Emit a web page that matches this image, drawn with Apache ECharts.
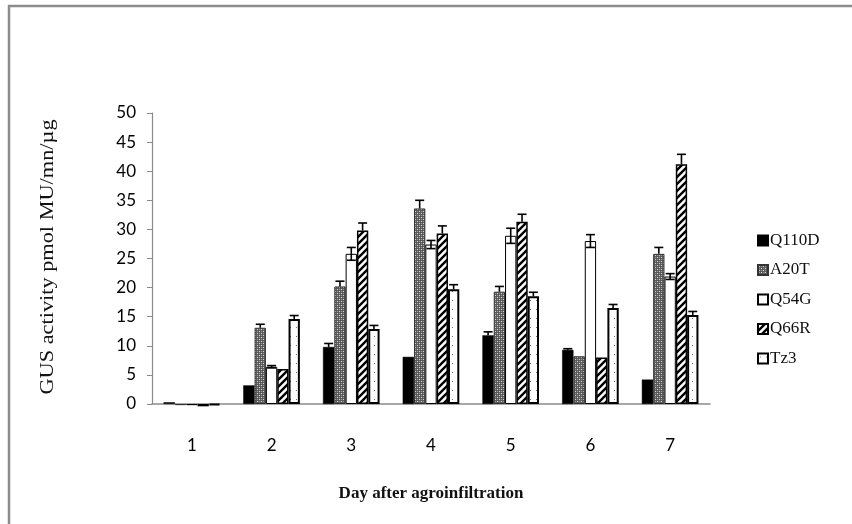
<!DOCTYPE html>
<html><head><meta charset="utf-8">
<script src="https://cdn.jsdelivr.net/npm/echarts/dist/echarts.min.js"></script>
<style>html,body{margin:0;padding:0;background:#fff}#c{width:852px;height:524px}</style>
</head><body><div id="c"></div>
<script>
// ---- data ----
const days = ['1','2','3','4','5','6','7'];
const seriesNames = ['Q110D','A20T','Q54G','Q66R','Tz3'];
const q110d = [0.3, 3.2, 9.8, 8.1, 11.8, 9.3, 4.2];
const a20t  = [-0.2, 13.1, 20.2, 33.6, 19.3, 8.2, 25.8];
const q54g  = [-0.2, 6.4, 25.8, 27.4, 28.9, 28.0, 21.9];
const q66r  = [-0.4, 6.0, 29.8, 29.3, 31.3, 8.0, 41.2];
const tz3   = [-0.2, 14.6, 12.9, 19.7, 18.5, 16.5, 15.3];
const q110dErr = [0, 0, 0.6, 0, 0.6, 0.2, 0];
const a20tErr  = [0, 0.6, 0.9, 1.4, 0.9, 0, 1.1];
const q54gErr  = [0, 0.2, 1.1, 0.7, 1.3, 1.1, 0.5];
const q66rErr  = [0, 0, 1.3, 1.3, 1.3, 0, 1.7];
const tz3Err   = [0, 0.6, 0.6, 0.8, 0.7, 0.6, 0.6];
const yTicksMax = 50, yTickStep = 5;

const values = [q110d, a20t, q54g, q66r, tz3];
const errs = [q110dErr, a20tErr, q54gErr, q66rErr, tz3Err];

// ---- patterns ----
function tile(w, h, draw) {
  const c = document.createElement('canvas'); c.width = w; c.height = h;
  const g = c.getContext('2d'); draw(g, w, h); return c;
}
const checker = tile(4, 4, (g) => {
  g.fillStyle = '#5a5a5a'; g.fillRect(0,0,4,4);
  g.fillStyle = '#d8d8d8'; g.fillRect(1,1,1,1); g.fillRect(3,3,1,1);
  g.fillStyle = '#9a9a9a'; g.fillRect(3,1,1,1); g.fillRect(1,3,1,1);
});
const stripes = tile(7, 7, (g, w, h) => {
  g.fillStyle = '#fff'; g.fillRect(0,0,w,h);
  g.strokeStyle = '#000'; g.lineWidth = 2.4;
  g.beginPath();
  g.moveTo(-1, h+1); g.lineTo(w+1, -1);
  g.moveTo(-2, 2); g.lineTo(2, -2);
  g.moveTo(w-2, h+2); g.lineTo(w+2, h-2);
  g.stroke();
});
const dots = tile(6, 9, (g, w, h) => {
  g.fillStyle = '#fff'; g.fillRect(0,0,w,h);
  g.fillStyle = '#777'; g.fillRect(2,3,1,1);
});

const styles = [
  {color: '#000', borderColor: '#000', borderWidth: 0.5},
  {color: {image: checker, repeat: 'repeat'}, borderColor: '#333', borderWidth: 1},
  {color: '#fff', borderColor: '#000', borderWidth: 1},
  {color: {image: stripes, repeat: 'repeat'}, borderColor: '#000', borderWidth: 1.5},
  {color: {image: dots, repeat: 'repeat'}, borderColor: '#000', borderWidth: 2}
];

const catGap = 0.29;
const series = [];
seriesNames.forEach((n, i) => {
  series.push({
    name: n, type: 'bar', data: values[i], barGap: '0%', barCategoryGap: (catGap*100)+'%',
    itemStyle: styles[i], clip: false, z: 2
  });
});
seriesNames.forEach((n, i) => {
  series.push({
    name: 'err' + n, type: 'custom', z: 5, silent: true,
    data: values[i].map((v, k) => [k, v, errs[i][k]]),
    encode: {x: 0, y: 1},
    renderItem: function (params, api) {
      const k = api.value(0), v = api.value(1), e = api.value(2);
      if (!e) return;
      const cw = api.size([1, 0])[0];
      const bw = cw * (1 - catGap) / 5;
      const c = api.coord([k, v]);
      const x = c[0] - 2.5 * bw + (i + 0.5) * bw;
      const yt = api.coord([k, v + e])[1];
      const yb = api.coord([k, v - e])[1];
      const cap = 4.5;
      const st = {stroke: '#000', lineWidth: 1.6};
      const ch = [
        {type: 'line', shape: {x1: x, y1: yt, x2: x, y2: i === 2 ? yb : c[1]}, style: st},
        {type: 'line', shape: {x1: x - cap, y1: yt, x2: x + cap, y2: yt}, style: st}
      ];
      if (i === 2) ch.push({type: 'line', shape: {x1: x - cap, y1: yb, x2: x + cap, y2: yb}, style: st});
      return {type: 'group', children: ch};
    }
  });
});

const chart = echarts.init(document.getElementById('c'), null, {renderer: 'canvas'});
chart.setOption({
  animation: false,
  backgroundColor: '#fff',
  grid: {left: 152, right: 142, top: 113, bottom: 120, containLabel: false},
  xAxis: {
    type: 'category', data: days,
    axisLine: {lineStyle: {color: '#8a8a8a', width: 1.5}},
    axisTick: {show: false},
    axisLabel: {color: '#000', fontFamily: 'Lato', fontSize: 17, margin: 33}
  },
  yAxis: {
    type: 'value', min: 0, max: yTicksMax, interval: yTickStep,
    axisLine: {show: true, lineStyle: {color: '#8a8a8a', width: 1.2}},
    axisTick: {show: true, length: 5, lineStyle: {color: '#8a8a8a'}},
    splitLine: {show: false},
    axisLabel: {color: '#000', fontFamily: 'Lato', fontSize: 17, margin: 16}
  },
  legend: {
    data: seriesNames, orient: 'vertical', left: 752, top: 227,
    itemWidth: 10, itemHeight: 10, itemGap: 12.5, icon: 'rect',
    textStyle: {fontFamily: 'Liberation Serif', fontSize: 17, color: '#111', padding: [0,0,0,-3]}
  },
  graphic: [
    {type: 'rect', shape: {x: 9, y: 6, width: 900, height: 600}, style: {fill: 'none', stroke: '#8c8c8c', lineWidth: 2.5}, silent: true},
    {type: 'text', x: 48, y: 257, rotation: Math.PI / 2, scaleX: 1.24,
     style: {text: 'GUS activity pmol MU/mn/µg', font: '18px "Liberation Serif"', fill: '#111', textAlign: 'center', textVerticalAlign: 'middle'}},
    {type: 'text', x: 431, y: 494,
     style: {text: 'Day after agroinfiltration', font: 'bold 17px "Liberation Serif"', fill: '#111', textAlign: 'center', textVerticalAlign: 'middle'}}
  ],
  series: series
});
</script></body></html>
